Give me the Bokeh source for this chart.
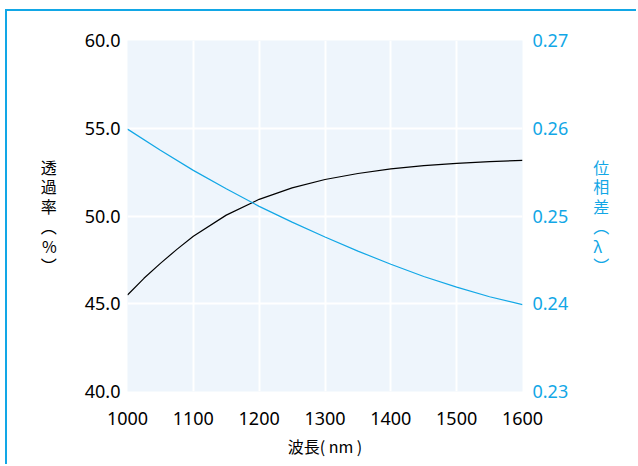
from bokeh.plotting import figure
from bokeh.models import Range1d, LinearAxis, FixedTicker, NumeralTickFormatter
from bokeh.embed import file_html
from bokeh.resources import INLINE

# data
wavelength = [1000, 1025, 1050, 1075, 1100, 1150, 1200, 1250, 1300, 1350, 1400, 1450, 1500, 1550, 1600]
transmission = [45.5, 46.45, 47.3, 48.1, 48.85, 50.05, 50.95, 51.6, 52.08, 52.42, 52.68, 52.87, 53.0, 53.1, 53.17]
phase_wl = [1000, 1050, 1100, 1150, 1200, 1250, 1300, 1350, 1400, 1450, 1500, 1550, 1600]
phase = [0.2599, 0.2575, 0.2552, 0.2531, 0.2511, 0.2493, 0.2476, 0.2460, 0.2445, 0.2431, 0.2419, 0.2408, 0.2399]
x_ticks = [1000, 1100, 1200, 1300, 1400, 1500, 1600]
left_ticks = [40, 45, 50, 55, 60]
right_ticks = [0.23, 0.24, 0.25, 0.26, 0.27]
x_title = "波長( nm )"
left_title = "透\n過\n率\n︵\n%\n︶"
right_title = "位\n相\n差\n︵\nλ\n︶"

BLUE = "#12a7e6"
LATIN = "Noto Sans"
CJK = "Noto Sans CJK JP"

p = figure(width=631, height=455, output_backend="svg", toolbar_location=None,
           x_range=Range1d(1000, 1600), y_range=Range1d(40, 60),
           min_border_left=120, min_border_top=29, min_border_right=116, min_border_bottom=75)
p.extra_y_ranges = {"phase": Range1d(0.23, 0.27)}
p.background_fill_color = "#eef5fc"
p.border_fill_color = "white"
p.outline_line_color = None
p.styles = {"position": "relative", "left": "5px", "top": "9px",
            "border-top": "2px solid " + BLUE, "border-left": "2px solid " + BLUE}

p.line(wavelength, transmission, line_color="black", line_width=1.2)
p.line(phase_wl, phase, line_color=BLUE, line_width=1.2, y_range_name="phase")

p.xaxis.ticker = FixedTicker(ticks=x_ticks)
p.yaxis.ticker = FixedTicker(ticks=left_ticks)
p.yaxis.formatter = NumeralTickFormatter(format="0.0")

r_axis = LinearAxis(y_range_name="phase", ticker=FixedTicker(ticks=right_ticks),
                    formatter=NumeralTickFormatter(format="0.00"))
p.add_layout(r_axis, "right")

for ax in [p.xaxis[0], p.yaxis[0], r_axis]:
    ax.axis_line_color = None
    ax.major_tick_line_color = None
    ax.minor_tick_line_color = None
    ax.major_tick_out = 0
    ax.major_tick_in = 0
    ax.major_label_text_font = LATIN
    ax.major_label_text_font_size = "18px"
    ax.axis_label_text_font = CJK
    ax.axis_label_text_font_size = "16px"
    ax.axis_label_text_font_style = "normal"

p.xaxis.major_label_text_color = "black"
p.xaxis.major_label_standoff = 20
p.xaxis.axis_label = x_title
p.xaxis.axis_label_standoff = 6
p.xaxis.axis_label_text_color = "black"

p.yaxis.major_label_text_color = "black"
p.yaxis.major_label_standoff = 7
p.yaxis.axis_label = left_title
p.yaxis.axis_label_orientation = "horizontal"
p.yaxis.axis_label_standoff = 25
p.yaxis.axis_label_text_color = "black"
p.yaxis.axis_label_text_line_height = 0.82

r_axis.major_label_text_color = BLUE
r_axis.major_label_standoff = 10
r_axis.axis_label = right_title
r_axis.axis_label_orientation = "horizontal"
r_axis.axis_label_standoff = 22
r_axis.axis_label_text_color = BLUE
r_axis.axis_label_text_line_height = 0.82

p.xgrid.ticker = FixedTicker(ticks=x_ticks)
p.ygrid.ticker = FixedTicker(ticks=left_ticks)
p.grid.grid_line_color = "white"
p.grid.grid_line_width = 2

open("out.html", "w").write(file_html(p, INLINE))
